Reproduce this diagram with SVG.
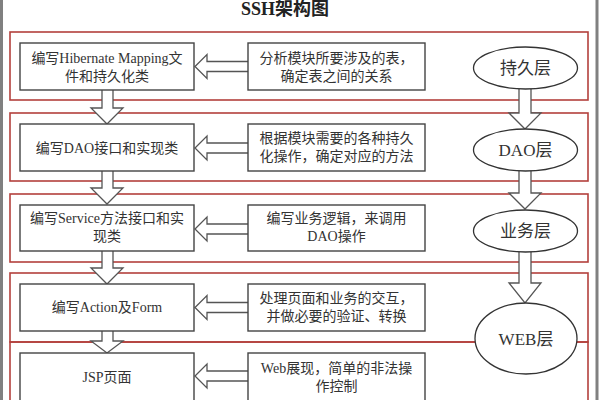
<svg xmlns="http://www.w3.org/2000/svg" width="600" height="400" viewBox="0 0 600 400">
<style>
.t{font-family:"Liberation Serif","Noto Sans CJK SC",serif;font-size:14px;fill:#333;text-anchor:middle}
.e{font-family:"Liberation Serif","Noto Sans CJK SC",serif;font-size:17px;fill:#333;text-anchor:middle}
.title{font-family:"Liberation Serif","Noto Sans CJK SC",serif;font-size:18px;font-weight:bold;fill:#222;text-anchor:middle}
.layer{fill:none;stroke:#b3403c;stroke-width:1.6}
.box{fill:#fff;stroke:#444;stroke-width:1.4}
.ell{fill:#fff;stroke:#333;stroke-width:1.3}
.arr{fill:#fff;stroke:#555;stroke-width:1.3;stroke-linejoin:miter}
.frame{stroke:#808080;stroke-width:3}
</style>
<rect width="600" height="400" fill="#fff"/>
<line class="frame" x1="1.5" y1="0" x2="1.5" y2="400"/>
<line class="frame" x1="597" y1="0" x2="597" y2="400"/>
<text class="title" x="285" y="15">SSH架构图</text>
<g id="layers">
<rect class="layer" x="10" y="32" width="578" height="68"/>
<rect class="layer" x="10" y="113" width="578" height="68"/>
<rect class="layer" x="10" y="194" width="578" height="68"/>
<rect class="layer" x="10" y="273" width="578" height="69"/>
<rect class="layer" x="10" y="342" width="578" height="70"/>
</g>
<g id="connectors">
<path class="arr" d="M102,90 L102,108 L91,108 L107,124 L123,108 L113,108 L113,90"/>
<path class="arr" d="M102,171 L102,188 L91,188 L107,204 L123,188 L113,188 L113,171"/>
<path class="arr" d="M102,251 L102,268 L91,268 L107,284 L123,268 L113,268 L113,251"/>
<path class="arr" d="M102,331 L102,341 L91,341 L107,353 L123,341 L113,341 L113,331"/>
<path class="arr" d="M519,89 L519,113 L509,113 L525,129 L541,113 L531,113 L531,89"/>
<path class="arr" d="M519,171 L519,193 L509,193 L525,209 L541,193 L531,193 L531,171"/>
<path class="arr" d="M519,252 L519,283 L509,283 L525,303 L541,283 L531,283 L531,252"/>
<path class="arr" d="M248,61.5 L207,61.5 L207,54.5 L195,66.5 L207,78.5 L207,71.5 L248,71.5"/>
<path class="arr" d="M248,143 L207,143 L207,136 L195,148 L207,160 L207,153 L248,153"/>
<path class="arr" d="M248,224 L207,224 L207,217 L195,229 L207,241 L207,234 L248,234"/>
<path class="arr" d="M248,302.5 L207,302.5 L207,295.5 L195,307.5 L207,319.5 L207,312.5 L248,312.5"/>
<path class="arr" d="M248,371 L207,371 L207,364 L195,376 L207,388 L207,381 L248,381"/>
</g>
<g id="hibernate">
<rect class="box" x="20" y="43" width="174" height="47"/>
<text class="t" x="107" y="63">编写Hibernate Mapping文</text>
<text class="t" x="107" y="81">件和持久化类</text>
</g>
<g id="analyze">
<rect class="box" x="248" y="43" width="177" height="47"/>
<text class="t" x="336.5" y="63">分析模块所要涉及的表，</text>
<text class="t" x="336.5" y="81">确定表之间的关系</text>
</g>
<g id="dao">
<rect class="box" x="20" y="124" width="174" height="47"/>
<text class="t" x="107" y="153">编写DAO接口和实现类</text>
</g>
<g id="persist-ops">
<rect class="box" x="248" y="124" width="177" height="47"/>
<text class="t" x="336.5" y="143">根据模块需要的各种持久</text>
<text class="t" x="336.5" y="161">化操作，确定对应的方法</text>
</g>
<g id="service">
<rect class="box" x="20" y="205" width="174" height="46"/>
<text class="t" x="107" y="223">编写Service方法接口和实</text>
<text class="t" x="107" y="241">现类</text>
</g>
<g id="business">
<rect class="box" x="248" y="205" width="177" height="46"/>
<text class="t" x="336.5" y="223">编写业务逻辑，来调用</text>
<text class="t" x="336.5" y="241">DAO操作</text>
</g>
<g id="action">
<rect class="box" x="20" y="284" width="174" height="47"/>
<text class="t" x="107" y="312">编写Action及Form</text>
</g>
<g id="interaction">
<rect class="box" x="248" y="284" width="177" height="47"/>
<text class="t" x="336.5" y="303">处理页面和业务的交互，</text>
<text class="t" x="336.5" y="321">并做必要的验证、转换</text>
</g>
<g id="jsp">
<rect class="box" x="20" y="353" width="174" height="48"/>
<text class="t" x="107" y="382">JSP页面</text>
</g>
<g id="web-show">
<rect class="box" x="248" y="353" width="177" height="48"/>
<text class="t" x="336.5" y="373">Web展现，简单的非法操</text>
<text class="t" x="336.5" y="391">作控制</text>
</g>
<g id="persist-layer">
<ellipse class="ell" cx="525.5" cy="68" rx="52" ry="21"/>
<text class="e" x="525.5" y="74">持久层</text>
</g>
<g id="dao-layer">
<ellipse class="ell" cx="525.5" cy="150" rx="52" ry="21"/>
<text class="e" x="525.5" y="156">DAO层</text>
</g>
<g id="business-layer">
<ellipse class="ell" cx="525.5" cy="231" rx="52" ry="21"/>
<text class="e" x="525.5" y="237">业务层</text>
</g>
<g id="web-layer">
<ellipse class="ell" cx="526" cy="338.5" rx="51" ry="35.5"/>
<text class="e" x="526" y="345">WEB层</text>
</g>
</svg>
